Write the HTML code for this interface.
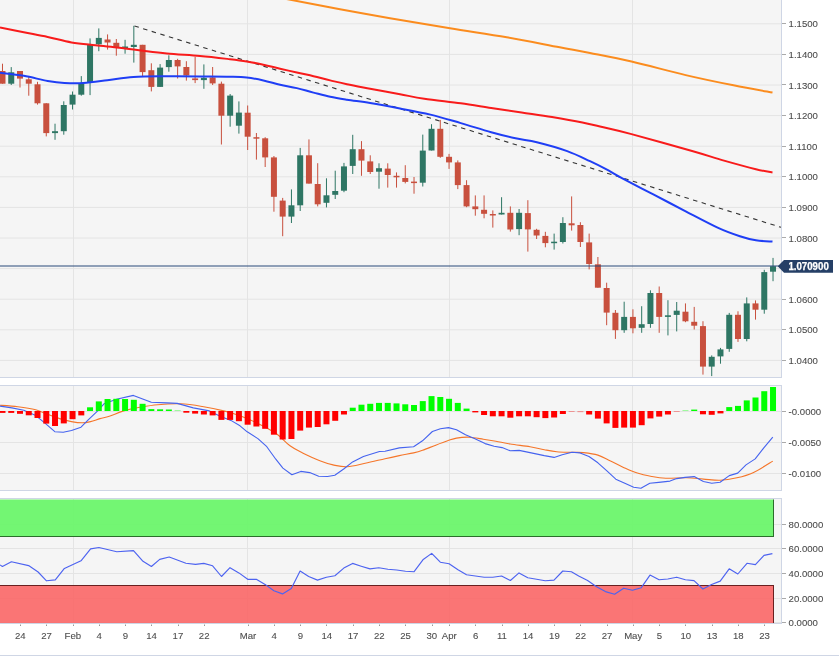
<!DOCTYPE html><html><head><meta charset="utf-8"><style>html,body{margin:0;padding:0;background:#fff;width:839px;height:658px;overflow:hidden}svg{display:block;will-change:transform}text{font-family:"Liberation Sans",sans-serif}</style></head><body>
<svg width="839" height="658" viewBox="0 0 839 658">
<rect x="0" y="0" width="781" height="377" fill="#f5f5f5"/>
<rect x="0" y="385" width="781" height="105" fill="#f5f5f5"/>
<rect x="0" y="498" width="781" height="125.5" fill="#f5f5f5"/>
<line x1="73.5" y1="0" x2="73.5" y2="377" stroke="#e4e4e4" stroke-width="1"/>
<line x1="73.5" y1="385" x2="73.5" y2="490" stroke="#e4e4e4" stroke-width="1"/>
<line x1="73.5" y1="498" x2="73.5" y2="623" stroke="#e4e4e4" stroke-width="1"/>
<line x1="247.5" y1="0" x2="247.5" y2="377" stroke="#e4e4e4" stroke-width="1"/>
<line x1="247.5" y1="385" x2="247.5" y2="490" stroke="#e4e4e4" stroke-width="1"/>
<line x1="247.5" y1="498" x2="247.5" y2="623" stroke="#e4e4e4" stroke-width="1"/>
<line x1="449.5" y1="0" x2="449.5" y2="377" stroke="#e4e4e4" stroke-width="1"/>
<line x1="449.5" y1="385" x2="449.5" y2="490" stroke="#e4e4e4" stroke-width="1"/>
<line x1="449.5" y1="498" x2="449.5" y2="623" stroke="#e4e4e4" stroke-width="1"/>
<line x1="632.5" y1="0" x2="632.5" y2="377" stroke="#e4e4e4" stroke-width="1"/>
<line x1="632.5" y1="385" x2="632.5" y2="490" stroke="#e4e4e4" stroke-width="1"/>
<line x1="632.5" y1="498" x2="632.5" y2="623" stroke="#e4e4e4" stroke-width="1"/>
<line x1="0" y1="360.4" x2="781" y2="360.4" stroke="#e4e4e4" stroke-width="1"/>
<line x1="0" y1="329.8" x2="781" y2="329.8" stroke="#e4e4e4" stroke-width="1"/>
<line x1="0" y1="299.2" x2="781" y2="299.2" stroke="#e4e4e4" stroke-width="1"/>
<line x1="0" y1="268.6" x2="781" y2="268.6" stroke="#e4e4e4" stroke-width="1"/>
<line x1="0" y1="238.0" x2="781" y2="238.0" stroke="#e4e4e4" stroke-width="1"/>
<line x1="0" y1="207.4" x2="781" y2="207.4" stroke="#e4e4e4" stroke-width="1"/>
<line x1="0" y1="176.8" x2="781" y2="176.8" stroke="#e4e4e4" stroke-width="1"/>
<line x1="0" y1="146.2" x2="781" y2="146.2" stroke="#e4e4e4" stroke-width="1"/>
<line x1="0" y1="115.6" x2="781" y2="115.6" stroke="#e4e4e4" stroke-width="1"/>
<line x1="0" y1="85.0" x2="781" y2="85.0" stroke="#e4e4e4" stroke-width="1"/>
<line x1="0" y1="54.4" x2="781" y2="54.4" stroke="#e4e4e4" stroke-width="1"/>
<line x1="0" y1="23.8" x2="781" y2="23.8" stroke="#e4e4e4" stroke-width="1"/>
<line x1="0" y1="411.5" x2="781" y2="411.5" stroke="#e4e4e4" stroke-width="1"/>
<line x1="0" y1="442.5" x2="781" y2="442.5" stroke="#e4e4e4" stroke-width="1"/>
<line x1="0" y1="473.5" x2="781" y2="473.5" stroke="#e4e4e4" stroke-width="1"/>
<line x1="0" y1="524.5" x2="781" y2="524.5" stroke="#e4e4e4" stroke-width="1"/>
<line x1="0" y1="548.5" x2="781" y2="548.5" stroke="#e4e4e4" stroke-width="1"/>
<line x1="0" y1="573.5" x2="781" y2="573.5" stroke="#e4e4e4" stroke-width="1"/>
<line x1="0" y1="598.5" x2="781" y2="598.5" stroke="#e4e4e4" stroke-width="1"/>
<line x1="0" y1="622.5" x2="781" y2="622.5" stroke="#e4e4e4" stroke-width="1"/>
<rect x="0" y="499.5" width="773.5" height="37" fill="#6cf56c" fill-opacity="0.95"/>
<line x1="0" y1="536.5" x2="774" y2="536.5" stroke="#2b6e2b" stroke-width="1"/>
<line x1="773.5" y1="499.5" x2="773.5" y2="537" stroke="#2b6e2b" stroke-width="1"/>
<rect x="0" y="585.5" width="773.5" height="38" fill="#fa6a6a" fill-opacity="0.93"/>
<line x1="0" y1="585.5" x2="774" y2="585.5" stroke="#6a2020" stroke-width="1"/>
<line x1="773.5" y1="585.5" x2="773.5" y2="623.5" stroke="#6a2020" stroke-width="1"/>
<g>
<rect x="1.99" y="63.7" width="1" height="20.0" fill="#c8503e"/>
<rect x="-0.51" y="71.0" width="6" height="12.7" fill="#c8503e"/>
<rect x="10.74" y="67.1" width="1" height="17.9" fill="#2e7664"/>
<rect x="8.24" y="72.3" width="6" height="11.4" fill="#2e7664"/>
<rect x="19.50" y="71.0" width="1" height="16.5" fill="#c8503e"/>
<rect x="17.00" y="71.0" width="6" height="7.6" fill="#c8503e"/>
<rect x="28.26" y="76.7" width="1" height="19.0" fill="#c8503e"/>
<rect x="25.76" y="79.3" width="6" height="4.4" fill="#c8503e"/>
<rect x="37.01" y="81.8" width="1" height="22.8" fill="#c8503e"/>
<rect x="34.51" y="84.3" width="6" height="19.0" fill="#c8503e"/>
<rect x="45.77" y="103.1" width="1" height="33.3" fill="#c8503e"/>
<rect x="43.27" y="103.3" width="6" height="29.8" fill="#c8503e"/>
<rect x="54.52" y="123.7" width="1" height="16.1" fill="#2e7664"/>
<rect x="52.02" y="131.2" width="6" height="1.9" fill="#2e7664"/>
<rect x="63.28" y="101.3" width="1" height="33.4" fill="#2e7664"/>
<rect x="60.78" y="105.0" width="6" height="26.2" fill="#2e7664"/>
<rect x="72.04" y="91.5" width="1" height="18.0" fill="#2e7664"/>
<rect x="69.54" y="94.7" width="6" height="9.9" fill="#2e7664"/>
<rect x="80.79" y="76.1" width="1" height="19.6" fill="#2e7664"/>
<rect x="78.29" y="83.7" width="6" height="11.0" fill="#2e7664"/>
<rect x="89.55" y="38.4" width="1" height="56.7" fill="#2e7664"/>
<rect x="87.05" y="44.7" width="6" height="38.0" fill="#2e7664"/>
<rect x="98.30" y="28.4" width="1" height="22.8" fill="#2e7664"/>
<rect x="95.80" y="37.9" width="6" height="6.4" fill="#2e7664"/>
<rect x="107.06" y="34.4" width="1" height="15.2" fill="#c8503e"/>
<rect x="104.56" y="39.5" width="6" height="3.0" fill="#c8503e"/>
<rect x="115.82" y="39.0" width="1" height="16.7" fill="#c8503e"/>
<rect x="113.32" y="42.8" width="6" height="4.2" fill="#c8503e"/>
<rect x="124.57" y="39.8" width="1" height="13.9" fill="#2e7664"/>
<rect x="122.07" y="46.5" width="6" height="1.5" fill="#2e7664"/>
<rect x="133.33" y="25.8" width="1" height="36.8" fill="#2e7664"/>
<rect x="130.83" y="44.8" width="6" height="2.2" fill="#2e7664"/>
<rect x="142.08" y="44.8" width="1" height="31.4" fill="#c8503e"/>
<rect x="139.58" y="44.8" width="6" height="27.3" fill="#c8503e"/>
<rect x="150.84" y="63.3" width="1" height="28.1" fill="#c8503e"/>
<rect x="148.34" y="70.2" width="6" height="16.7" fill="#c8503e"/>
<rect x="159.60" y="64.1" width="1" height="22.8" fill="#2e7664"/>
<rect x="157.10" y="67.6" width="6" height="19.3" fill="#2e7664"/>
<rect x="168.35" y="55.3" width="1" height="16.4" fill="#2e7664"/>
<rect x="165.85" y="60.0" width="6" height="7.1" fill="#2e7664"/>
<rect x="177.11" y="58.8" width="1" height="19.7" fill="#c8503e"/>
<rect x="174.61" y="60.0" width="6" height="6.4" fill="#c8503e"/>
<rect x="185.86" y="61.2" width="1" height="19.4" fill="#c8503e"/>
<rect x="183.36" y="67.0" width="6" height="8.5" fill="#c8503e"/>
<rect x="194.62" y="56.8" width="1" height="26.3" fill="#c8503e"/>
<rect x="192.12" y="78.4" width="6" height="1.7" fill="#c8503e"/>
<rect x="203.38" y="64.4" width="1" height="24.4" fill="#2e7664"/>
<rect x="200.88" y="77.8" width="6" height="2.3" fill="#2e7664"/>
<rect x="212.13" y="67.0" width="1" height="18.0" fill="#c8503e"/>
<rect x="209.63" y="77.4" width="6" height="6.0" fill="#c8503e"/>
<rect x="220.89" y="81.6" width="1" height="62.9" fill="#c8503e"/>
<rect x="218.39" y="83.7" width="6" height="32.0" fill="#c8503e"/>
<rect x="229.64" y="94.0" width="1" height="32.7" fill="#2e7664"/>
<rect x="227.14" y="95.6" width="6" height="20.1" fill="#2e7664"/>
<rect x="238.40" y="101.4" width="1" height="32.2" fill="#2e7664"/>
<rect x="235.90" y="112.6" width="6" height="13.1" fill="#2e7664"/>
<rect x="247.16" y="105.5" width="1" height="44.5" fill="#c8503e"/>
<rect x="244.66" y="112.7" width="6" height="24.0" fill="#c8503e"/>
<rect x="255.91" y="133.0" width="1" height="26.6" fill="#c8503e"/>
<rect x="253.41" y="137.2" width="6" height="1.5" fill="#c8503e"/>
<rect x="264.67" y="137.2" width="1" height="29.8" fill="#c8503e"/>
<rect x="262.17" y="138.3" width="6" height="19.1" fill="#c8503e"/>
<rect x="273.42" y="156.0" width="1" height="55.7" fill="#c8503e"/>
<rect x="270.92" y="157.4" width="6" height="39.4" fill="#c8503e"/>
<rect x="282.18" y="197.9" width="1" height="38.3" fill="#c8503e"/>
<rect x="279.68" y="200.6" width="6" height="16.0" fill="#c8503e"/>
<rect x="290.94" y="189.4" width="1" height="33.6" fill="#2e7664"/>
<rect x="288.44" y="205.3" width="6" height="11.3" fill="#2e7664"/>
<rect x="299.69" y="147.9" width="1" height="63.1" fill="#2e7664"/>
<rect x="297.19" y="155.3" width="6" height="50.0" fill="#2e7664"/>
<rect x="308.45" y="139.4" width="1" height="44.2" fill="#c8503e"/>
<rect x="305.95" y="155.3" width="6" height="28.3" fill="#c8503e"/>
<rect x="317.20" y="163.2" width="1" height="43.2" fill="#c8503e"/>
<rect x="314.70" y="184.0" width="6" height="20.3" fill="#c8503e"/>
<rect x="325.96" y="178.3" width="1" height="29.1" fill="#2e7664"/>
<rect x="323.46" y="195.3" width="6" height="7.5" fill="#2e7664"/>
<rect x="334.72" y="170.7" width="1" height="28.3" fill="#2e7664"/>
<rect x="332.22" y="191.0" width="6" height="3.8" fill="#2e7664"/>
<rect x="343.47" y="162.9" width="1" height="29.3" fill="#2e7664"/>
<rect x="340.97" y="166.4" width="6" height="24.3" fill="#2e7664"/>
<rect x="352.23" y="134.8" width="1" height="39.2" fill="#2e7664"/>
<rect x="349.73" y="149.2" width="6" height="16.7" fill="#2e7664"/>
<rect x="360.98" y="141.1" width="1" height="34.7" fill="#c8503e"/>
<rect x="358.48" y="149.2" width="6" height="11.4" fill="#c8503e"/>
<rect x="369.74" y="155.3" width="1" height="18.7" fill="#c8503e"/>
<rect x="367.24" y="161.4" width="6" height="10.6" fill="#c8503e"/>
<rect x="378.50" y="163.3" width="1" height="25.4" fill="#2e7664"/>
<rect x="376.00" y="168.2" width="6" height="3.5" fill="#2e7664"/>
<rect x="387.25" y="163.3" width="1" height="24.3" fill="#c8503e"/>
<rect x="384.75" y="168.6" width="6" height="6.4" fill="#c8503e"/>
<rect x="396.01" y="172.4" width="1" height="15.2" fill="#c8503e"/>
<rect x="393.51" y="175.8" width="6" height="1.5" fill="#c8503e"/>
<rect x="404.76" y="165.2" width="1" height="18.2" fill="#c8503e"/>
<rect x="402.26" y="178.0" width="6" height="3.9" fill="#c8503e"/>
<rect x="413.52" y="177.0" width="1" height="16.7" fill="#c8503e"/>
<rect x="411.02" y="181.6" width="6" height="1.5" fill="#c8503e"/>
<rect x="422.28" y="134.6" width="1" height="51.9" fill="#2e7664"/>
<rect x="419.78" y="150.6" width="6" height="32.1" fill="#2e7664"/>
<rect x="431.03" y="124.2" width="1" height="26.3" fill="#2e7664"/>
<rect x="428.53" y="128.8" width="6" height="21.7" fill="#2e7664"/>
<rect x="439.79" y="119.9" width="1" height="37.9" fill="#c8503e"/>
<rect x="437.29" y="128.8" width="6" height="28.0" fill="#c8503e"/>
<rect x="448.54" y="153.9" width="1" height="15.0" fill="#c8503e"/>
<rect x="446.04" y="156.8" width="6" height="5.6" fill="#c8503e"/>
<rect x="457.30" y="160.4" width="1" height="28.7" fill="#c8503e"/>
<rect x="454.80" y="162.4" width="6" height="22.7" fill="#c8503e"/>
<rect x="466.06" y="180.2" width="1" height="27.0" fill="#c8503e"/>
<rect x="463.56" y="185.1" width="6" height="21.3" fill="#c8503e"/>
<rect x="474.81" y="195.4" width="1" height="20.3" fill="#c8503e"/>
<rect x="472.31" y="206.4" width="6" height="2.8" fill="#c8503e"/>
<rect x="483.57" y="195.4" width="1" height="22.9" fill="#c8503e"/>
<rect x="481.07" y="209.8" width="6" height="4.0" fill="#c8503e"/>
<rect x="492.32" y="210.4" width="1" height="17.2" fill="#c8503e"/>
<rect x="489.82" y="214.0" width="6" height="1.5" fill="#c8503e"/>
<rect x="501.08" y="197.2" width="1" height="17.3" fill="#2e7664"/>
<rect x="498.58" y="212.8" width="6" height="1.7" fill="#2e7664"/>
<rect x="509.84" y="206.4" width="1" height="25.2" fill="#c8503e"/>
<rect x="507.34" y="212.8" width="6" height="16.7" fill="#c8503e"/>
<rect x="518.59" y="209.0" width="1" height="26.2" fill="#2e7664"/>
<rect x="516.09" y="212.8" width="6" height="16.3" fill="#2e7664"/>
<rect x="527.35" y="200.2" width="1" height="51.4" fill="#c8503e"/>
<rect x="524.85" y="213.1" width="6" height="16.3" fill="#c8503e"/>
<rect x="536.10" y="228.8" width="1" height="10.2" fill="#c8503e"/>
<rect x="533.60" y="229.8" width="6" height="5.7" fill="#c8503e"/>
<rect x="544.86" y="231.8" width="1" height="15.5" fill="#c8503e"/>
<rect x="542.36" y="235.9" width="6" height="7.2" fill="#c8503e"/>
<rect x="553.62" y="233.6" width="1" height="16.0" fill="#2e7664"/>
<rect x="551.12" y="241.7" width="6" height="1.5" fill="#2e7664"/>
<rect x="562.37" y="217.2" width="1" height="26.3" fill="#2e7664"/>
<rect x="559.87" y="223.0" width="6" height="19.0" fill="#2e7664"/>
<rect x="571.13" y="196.4" width="1" height="34.2" fill="#c8503e"/>
<rect x="568.63" y="223.3" width="6" height="2.0" fill="#c8503e"/>
<rect x="579.88" y="222.2" width="1" height="24.8" fill="#c8503e"/>
<rect x="577.38" y="225.0" width="6" height="17.0" fill="#c8503e"/>
<rect x="588.64" y="233.6" width="1" height="35.8" fill="#c8503e"/>
<rect x="586.14" y="242.4" width="6" height="21.6" fill="#c8503e"/>
<rect x="597.40" y="257.0" width="1" height="30.7" fill="#c8503e"/>
<rect x="594.90" y="264.3" width="6" height="23.4" fill="#c8503e"/>
<rect x="606.15" y="282.7" width="1" height="42.5" fill="#c8503e"/>
<rect x="603.65" y="288.0" width="6" height="24.6" fill="#c8503e"/>
<rect x="614.91" y="310.0" width="1" height="28.9" fill="#c8503e"/>
<rect x="612.41" y="312.8" width="6" height="17.4" fill="#c8503e"/>
<rect x="623.66" y="301.7" width="1" height="31.1" fill="#2e7664"/>
<rect x="621.16" y="316.9" width="6" height="13.3" fill="#2e7664"/>
<rect x="632.42" y="309.3" width="1" height="24.0" fill="#c8503e"/>
<rect x="629.92" y="316.9" width="6" height="11.4" fill="#c8503e"/>
<rect x="641.18" y="306.2" width="1" height="26.6" fill="#2e7664"/>
<rect x="638.68" y="324.2" width="6" height="3.6" fill="#2e7664"/>
<rect x="649.93" y="290.3" width="1" height="37.5" fill="#2e7664"/>
<rect x="647.43" y="293.0" width="6" height="31.0" fill="#2e7664"/>
<rect x="658.69" y="286.5" width="1" height="46.3" fill="#c8503e"/>
<rect x="656.19" y="293.0" width="6" height="23.9" fill="#c8503e"/>
<rect x="667.44" y="300.2" width="1" height="35.2" fill="#2e7664"/>
<rect x="664.94" y="315.3" width="6" height="1.6" fill="#2e7664"/>
<rect x="676.20" y="302.0" width="1" height="29.4" fill="#2e7664"/>
<rect x="673.70" y="310.7" width="6" height="4.2" fill="#2e7664"/>
<rect x="684.96" y="303.4" width="1" height="18.8" fill="#c8503e"/>
<rect x="682.46" y="311.7" width="6" height="9.6" fill="#c8503e"/>
<rect x="693.71" y="306.9" width="1" height="22.6" fill="#c8503e"/>
<rect x="691.21" y="321.8" width="6" height="3.9" fill="#c8503e"/>
<rect x="702.47" y="321.2" width="1" height="53.4" fill="#c8503e"/>
<rect x="699.97" y="326.1" width="6" height="40.5" fill="#c8503e"/>
<rect x="711.22" y="355.4" width="1" height="20.7" fill="#2e7664"/>
<rect x="708.72" y="356.8" width="6" height="9.8" fill="#2e7664"/>
<rect x="719.98" y="347.9" width="1" height="15.8" fill="#2e7664"/>
<rect x="717.48" y="349.4" width="6" height="7.0" fill="#2e7664"/>
<rect x="728.74" y="312.9" width="1" height="38.9" fill="#2e7664"/>
<rect x="726.24" y="314.8" width="6" height="34.1" fill="#2e7664"/>
<rect x="737.49" y="311.3" width="1" height="30.6" fill="#c8503e"/>
<rect x="734.99" y="314.8" width="6" height="24.2" fill="#c8503e"/>
<rect x="746.25" y="297.4" width="1" height="43.9" fill="#2e7664"/>
<rect x="743.75" y="303.4" width="6" height="35.6" fill="#2e7664"/>
<rect x="755.00" y="300.4" width="1" height="19.2" fill="#c8503e"/>
<rect x="752.50" y="303.4" width="6" height="6.3" fill="#c8503e"/>
<rect x="763.76" y="269.8" width="1" height="43.9" fill="#2e7664"/>
<rect x="761.26" y="272.1" width="6" height="37.6" fill="#2e7664"/>
<rect x="772.52" y="257.9" width="1" height="23.3" fill="#2e7664"/>
<rect x="770.02" y="266.2" width="6" height="5.5" fill="#2e7664"/>
</g>
<line x1="134.5" y1="26" x2="781" y2="227.3" stroke="#333" stroke-width="1.1" stroke-dasharray="4.5,4.5"/>
<path d="M286.5,-1.0 C295.4,0.7 322.8,6.1 340.0,9.3 C357.2,12.5 371.7,15.1 390.0,18.3 C408.3,21.5 430.6,25.1 450.0,28.3 C469.4,31.5 488.4,34.1 506.7,37.3 C525.0,40.5 545.8,44.7 559.7,47.3 C573.6,49.9 578.0,50.5 590.0,52.9 C602.0,55.3 615.5,57.8 631.5,61.5 C647.5,65.2 668.7,71.1 685.7,75.1 C702.7,79.1 719.0,82.4 733.5,85.3 C748.0,88.2 766.0,91.4 772.5,92.6" fill="none" stroke="#fb8c1e" stroke-width="2" stroke-linejoin="round"/>
<path d="M0.0,27.4 C4.0,28.2 15.9,30.6 23.8,32.2 C31.8,33.8 39.8,35.2 47.7,36.9 C55.7,38.6 63.5,41.0 71.5,42.4 C79.5,43.8 87.5,44.4 95.4,45.3 C103.4,46.2 111.3,46.8 119.2,47.7 C127.1,48.6 135.1,49.8 143.0,50.8 C150.9,51.8 157.4,52.7 166.9,53.6 C176.4,54.5 189.5,55.1 200.0,56.0 C210.5,56.9 222.2,58.3 230.0,59.2 C237.8,60.1 241.1,60.5 246.7,61.4 C252.3,62.3 257.8,63.5 263.4,64.7 C269.0,65.9 274.5,67.4 280.1,68.7 C285.7,70.0 291.2,71.2 296.8,72.5 C302.4,73.8 307.9,74.9 313.5,76.2 C319.1,77.5 324.6,79.1 330.2,80.4 C335.8,81.7 340.2,82.8 346.9,84.2 C353.5,85.6 361.2,87.0 370.1,88.7 C379.0,90.4 391.0,92.5 400.0,94.2 C409.0,95.9 414.2,97.3 424.3,98.8 C434.4,100.3 449.7,101.8 460.8,103.3 C471.9,104.8 481.1,106.4 491.2,107.9 C501.3,109.4 511.5,111.0 521.6,112.5 C531.7,114.0 541.9,115.3 552.0,117.0 C562.1,118.7 574.4,120.9 582.4,122.5 C590.4,124.1 591.8,124.6 600.0,126.5 C608.2,128.4 616.1,130.0 631.5,134.1 C646.9,138.2 676.7,146.6 692.1,151.0 C707.5,155.4 713.4,157.6 724.0,160.6 C734.6,163.6 747.8,167.2 755.9,169.2 C764.0,171.2 769.7,171.9 772.5,172.4" fill="none" stroke="#f81b1b" stroke-width="2" stroke-linejoin="round"/>
<path d="M0.0,72.7 C4.0,73.2 15.9,74.4 23.8,75.8 C31.8,77.2 40.9,79.8 47.7,81.0 C54.5,82.2 58.5,82.7 64.4,83.0 C70.4,83.3 76.2,83.5 83.4,83.0 C90.6,82.5 99.0,81.3 107.3,80.3 C115.6,79.3 123.6,77.7 133.5,77.0 C143.4,76.3 155.8,76.4 166.9,76.3 C178.0,76.2 189.5,76.3 200.0,76.4 C210.5,76.5 222.2,76.5 230.0,76.7 C237.8,76.9 241.1,76.9 246.7,77.5 C252.3,78.1 257.8,79.2 263.4,80.4 C269.0,81.6 274.5,83.4 280.1,84.7 C285.7,86.0 291.2,86.8 296.8,88.1 C302.4,89.4 307.9,91.2 313.5,92.6 C319.1,94.0 324.6,95.5 330.2,96.7 C335.8,97.9 340.2,98.6 346.9,99.7 C353.5,100.8 361.2,101.6 370.1,103.1 C379.0,104.6 389.9,106.6 400.0,108.5 C410.1,110.4 420.3,112.2 430.4,114.6 C440.5,117.0 450.7,120.2 460.8,123.1 C470.9,126.0 482.1,129.7 491.2,132.2 C500.3,134.7 507.9,136.6 515.5,138.3 C523.1,140.0 528.2,140.1 536.8,142.2 C545.4,144.3 558.3,147.9 567.2,151.1 C576.1,154.3 583.5,158.2 590.0,161.2 C596.5,164.2 600.7,166.4 606.0,169.2 C611.3,172.0 613.9,173.8 621.9,178.1 C629.9,182.3 643.2,189.2 653.8,194.7 C664.4,200.2 675.1,205.8 685.7,211.3 C696.3,216.8 708.6,223.4 717.6,227.6 C726.6,231.8 733.5,234.1 739.9,236.2 C746.3,238.3 750.5,239.4 755.9,240.3 C761.3,241.2 769.7,241.4 772.5,241.6" fill="none" stroke="#1f3ef5" stroke-width="2" stroke-linejoin="round"/>
<line x1="0" y1="266" x2="779" y2="266" stroke="#2a4a7a" stroke-opacity="0.5" stroke-width="2"/>
<path d="M0.0,405.3 C3.0,405.5 11.9,406.0 17.9,406.7 C23.9,407.4 30.8,408.4 35.8,409.7 C40.8,411.0 43.7,412.9 47.7,414.4 C51.7,415.9 55.6,417.4 59.6,418.6 C63.6,419.8 67.7,420.9 71.5,421.6 C75.3,422.3 79.0,422.8 82.2,422.8 C85.4,422.8 87.6,422.3 90.6,421.6 C93.6,420.9 96.9,419.5 100.0,418.6 C103.1,417.7 105.4,417.6 109.3,416.3 C113.2,415.0 118.5,412.4 123.6,410.9 C128.7,409.4 134.0,408.3 139.7,407.3 C145.4,406.3 150.8,405.3 157.6,404.7 C164.4,404.1 173.4,403.5 180.8,403.8 C188.2,404.1 195.2,405.3 202.3,406.5 C209.5,407.7 217.4,409.3 223.7,410.9 C230.0,412.4 234.3,413.7 240.0,415.8 C245.7,417.9 251.9,420.5 257.9,423.4 C263.9,426.3 270.4,429.6 275.8,433.3 C281.2,437.0 285.5,442.5 290.0,445.8 C294.5,449.1 297.5,450.4 302.6,452.9 C307.7,455.4 315.4,459.0 320.5,461.0 C325.6,463.0 328.5,463.9 333.0,464.9 C337.5,465.8 341.9,467.0 347.3,466.7 C352.7,466.4 358.9,464.6 365.2,463.3 C371.5,462.0 379.3,460.0 385.0,458.7 C390.7,457.4 394.5,456.6 399.3,455.6 C404.1,454.6 409.7,453.8 413.6,452.9 C417.5,452.0 418.9,451.6 422.5,450.3 C426.1,449.1 430.9,447.0 435.1,445.4 C439.3,443.8 444.0,442.0 447.6,440.8 C451.2,439.6 452.9,438.7 456.5,438.1 C460.1,437.5 464.5,437.0 469.0,437.2 C473.5,437.4 478.8,438.5 483.3,439.2 C487.8,439.9 491.4,440.5 495.9,441.3 C500.4,442.1 504.5,443.1 510.2,444.0 C515.9,444.9 524.3,445.8 530.0,446.7 C535.7,447.6 539.8,448.9 544.3,449.7 C548.8,450.5 552.3,451.2 556.8,451.7 C561.3,452.1 566.6,452.2 571.1,452.4 C575.6,452.5 579.1,452.2 583.6,452.6 C588.1,453.1 593.4,453.7 597.9,455.1 C602.4,456.5 606.3,459.0 610.5,461.0 C614.7,463.0 618.5,465.2 623.0,467.2 C627.5,469.2 632.5,471.6 637.3,473.1 C642.1,474.7 646.8,475.6 651.6,476.5 C656.4,477.4 660.0,478.1 665.9,478.3 C671.8,478.5 680.5,477.7 686.7,477.8 C693.0,477.9 697.8,478.7 703.4,479.1 C709.0,479.5 714.5,480.5 720.1,480.3 C725.7,480.1 731.3,479.1 736.9,477.8 C742.5,476.5 747.6,475.2 753.6,472.4 C759.6,469.6 769.6,463.0 772.8,461.1" fill="none" stroke="#f5762a" stroke-width="1.1" stroke-linejoin="round"/>
<polyline points="0.0,406.1 11.9,407.9 23.8,410.3 35.8,415.6 45.3,423.4 54.8,431.7 63.2,432.3 71.5,430.5 81.0,427.2 88.2,419.8 97.7,410.9 104.0,403.8 116.5,399.3 133.4,395.4 151.3,402.3 166.5,402.9 177.2,403.4 193.3,407.9 209.4,410.9 220.2,416.3 230.9,420.4 240.0,425.8 247.2,431.8 257.9,438.6 266.8,446.7 275.8,459.2 282.9,468.1 291.9,474.8 300.8,471.4 309.7,472.6 318.7,476.2 327.6,476.5 334.8,475.3 343.7,469.0 352.6,461.9 363.4,456.5 379.5,451.5 385.0,451.2 399.3,447.9 413.6,446.7 422.5,440.8 432.4,431.5 440.4,428.8 448.5,427.6 456.5,429.7 465.5,434.7 474.4,438.6 485.1,443.6 494.1,446.3 502.1,447.6 510.2,450.8 519.1,450.4 530.0,452.6 544.3,455.6 554.1,457.4 562.2,454.7 572.0,452.2 580.1,452.9 589.0,456.5 597.9,462.8 606.9,470.8 615.8,479.2 624.8,483.3 633.7,487.3 640.9,488.3 649.8,483.3 658.7,482.4 670.0,481.1 676.7,478.6 685.0,477.4 694.2,476.6 703.4,481.5 711.8,483.3 720.1,482.3 729.3,475.6 737.7,473.1 746.0,464.9 755.2,458.9 763.6,448.2 772.8,437.2" fill="none" stroke="#4563ef" stroke-width="1.1" stroke-linejoin="round"/>
<g>
<rect x="-0.51" y="411" width="6" height="1.9" fill="#ff0000"/>
<rect x="8.24" y="411" width="6" height="1.9" fill="#ff0000"/>
<rect x="17.00" y="411" width="6" height="2.8" fill="#ff0000"/>
<rect x="25.76" y="411" width="6" height="4.3" fill="#ff0000"/>
<rect x="34.51" y="411" width="6" height="7.0" fill="#ff0000"/>
<rect x="43.27" y="411" width="6" height="12.6" fill="#ff0000"/>
<rect x="52.02" y="411" width="6" height="15.0" fill="#ff0000"/>
<rect x="60.78" y="411" width="6" height="12.4" fill="#ff0000"/>
<rect x="69.54" y="411" width="6" height="8.2" fill="#ff0000"/>
<rect x="78.29" y="411" width="6" height="4.4" fill="#ff0000"/>
<rect x="87.05" y="407.3" width="6" height="3.7" fill="#00ff00"/>
<rect x="95.80" y="401.4" width="6" height="9.6" fill="#00ff00"/>
<rect x="104.56" y="399.0" width="6" height="12.0" fill="#00ff00"/>
<rect x="113.32" y="398.8" width="6" height="12.2" fill="#00ff00"/>
<rect x="122.07" y="399.0" width="6" height="12.0" fill="#00ff00"/>
<rect x="130.83" y="399.8" width="6" height="11.2" fill="#00ff00"/>
<rect x="139.58" y="403.8" width="6" height="7.2" fill="#00ff00"/>
<rect x="148.34" y="409.1" width="6" height="1.9" fill="#00ff00"/>
<rect x="157.10" y="409.3" width="6" height="1.7" fill="#00ff00"/>
<rect x="165.85" y="409.5" width="6" height="1.5" fill="#00ff00"/>
<rect x="174.61" y="410.0" width="6" height="1.0" fill="#00ff00" fill-opacity="0.35"/>
<rect x="183.36" y="411" width="6" height="1.7" fill="#ff0000"/>
<rect x="192.12" y="411" width="6" height="2.6" fill="#ff0000"/>
<rect x="200.88" y="411" width="6" height="3.5" fill="#ff0000"/>
<rect x="209.63" y="411" width="6" height="4.4" fill="#ff0000"/>
<rect x="218.39" y="411" width="6" height="8.9" fill="#ff0000"/>
<rect x="227.14" y="411" width="6" height="8.9" fill="#ff0000"/>
<rect x="235.90" y="411" width="6" height="10.2" fill="#ff0000"/>
<rect x="244.66" y="411" width="6" height="13.7" fill="#ff0000"/>
<rect x="253.41" y="411" width="6" height="15.5" fill="#ff0000"/>
<rect x="262.17" y="411" width="6" height="17.8" fill="#ff0000"/>
<rect x="270.92" y="411" width="6" height="23.7" fill="#ff0000"/>
<rect x="279.68" y="411" width="6" height="28.5" fill="#ff0000"/>
<rect x="288.44" y="411" width="6" height="28.0" fill="#ff0000"/>
<rect x="297.19" y="411" width="6" height="19.6" fill="#ff0000"/>
<rect x="305.95" y="411" width="6" height="16.6" fill="#ff0000"/>
<rect x="314.70" y="411" width="6" height="16.0" fill="#ff0000"/>
<rect x="323.46" y="411" width="6" height="13.3" fill="#ff0000"/>
<rect x="332.22" y="411" width="6" height="9.8" fill="#ff0000"/>
<rect x="340.97" y="411" width="6" height="3.5" fill="#ff0000"/>
<rect x="349.73" y="407.7" width="6" height="3.3" fill="#00ff00"/>
<rect x="358.48" y="404.7" width="6" height="6.3" fill="#00ff00"/>
<rect x="367.24" y="403.8" width="6" height="7.2" fill="#00ff00"/>
<rect x="376.00" y="402.9" width="6" height="8.1" fill="#00ff00"/>
<rect x="384.75" y="402.9" width="6" height="8.1" fill="#00ff00"/>
<rect x="393.51" y="403.4" width="6" height="7.6" fill="#00ff00"/>
<rect x="402.26" y="404.3" width="6" height="6.7" fill="#00ff00"/>
<rect x="411.02" y="405.0" width="6" height="6.0" fill="#00ff00"/>
<rect x="419.78" y="401.1" width="6" height="9.9" fill="#00ff00"/>
<rect x="428.53" y="396.1" width="6" height="14.9" fill="#00ff00"/>
<rect x="437.29" y="397.0" width="6" height="14.0" fill="#00ff00"/>
<rect x="446.04" y="398.8" width="6" height="12.2" fill="#00ff00"/>
<rect x="454.80" y="402.9" width="6" height="8.1" fill="#00ff00"/>
<rect x="463.56" y="408.6" width="6" height="2.4" fill="#00ff00"/>
<rect x="472.31" y="411" width="6" height="1.4" fill="#ff0000"/>
<rect x="481.07" y="411" width="6" height="4.0" fill="#ff0000"/>
<rect x="489.82" y="411" width="6" height="5.3" fill="#ff0000"/>
<rect x="498.58" y="411" width="6" height="5.3" fill="#ff0000"/>
<rect x="507.34" y="411" width="6" height="6.7" fill="#ff0000"/>
<rect x="516.09" y="411" width="6" height="5.3" fill="#ff0000"/>
<rect x="524.85" y="411" width="6" height="5.3" fill="#ff0000"/>
<rect x="533.60" y="411" width="6" height="6.2" fill="#ff0000"/>
<rect x="542.36" y="411" width="6" height="7.1" fill="#ff0000"/>
<rect x="551.12" y="411" width="6" height="6.5" fill="#ff0000"/>
<rect x="559.87" y="411" width="6" height="3.0" fill="#ff0000"/>
<rect x="568.63" y="411" width="6" height="1.0" fill="#ff0000" fill-opacity="0.35"/>
<rect x="577.38" y="411" width="6" height="1.2" fill="#ff0000" fill-opacity="0.35"/>
<rect x="586.14" y="411" width="6" height="3.5" fill="#ff0000"/>
<rect x="594.90" y="411" width="6" height="7.6" fill="#ff0000"/>
<rect x="603.65" y="411" width="6" height="12.4" fill="#ff0000"/>
<rect x="612.41" y="411" width="6" height="16.9" fill="#ff0000"/>
<rect x="621.16" y="411" width="6" height="16.6" fill="#ff0000"/>
<rect x="629.92" y="411" width="6" height="16.6" fill="#ff0000"/>
<rect x="638.68" y="411" width="6" height="14.2" fill="#ff0000"/>
<rect x="647.43" y="411" width="6" height="7.4" fill="#ff0000"/>
<rect x="656.19" y="411" width="6" height="5.6" fill="#ff0000"/>
<rect x="664.94" y="411" width="6" height="3.5" fill="#ff0000"/>
<rect x="673.70" y="411" width="6" height="1.0" fill="#ff0000" fill-opacity="0.35"/>
<rect x="682.46" y="410.0" width="6" height="1.0" fill="#00ff00" fill-opacity="0.35"/>
<rect x="691.21" y="409.6" width="6" height="1.4" fill="#00ff00"/>
<rect x="699.97" y="411" width="6" height="3.3" fill="#ff0000"/>
<rect x="708.72" y="411" width="6" height="3.8" fill="#ff0000"/>
<rect x="717.48" y="411" width="6" height="2.4" fill="#ff0000"/>
<rect x="726.24" y="407.1" width="6" height="3.9" fill="#00ff00"/>
<rect x="734.99" y="405.9" width="6" height="5.1" fill="#00ff00"/>
<rect x="743.75" y="400.4" width="6" height="10.6" fill="#00ff00"/>
<rect x="752.50" y="397.5" width="6" height="13.5" fill="#00ff00"/>
<rect x="761.26" y="391.2" width="6" height="19.8" fill="#00ff00"/>
<rect x="770.02" y="387.0" width="6" height="24.0" fill="#00ff00"/>
</g>
<polyline points="0.0,564.9 2.4,566.5 11.4,561.8 28.6,565.6 38.1,572.0 46.5,580.8 55.3,579.9 64.4,568.4 81.0,560.8 90.6,548.9 98.9,547.5 116.8,551.7 133.5,550.6 143.0,561.3 151.4,566.5 159.7,559.4 169.2,557.0 185.9,563.2 195.5,564.4 203.8,563.4 212.6,565.8 221.5,576.5 230.0,567.7 238.9,572.9 247.7,579.3 256.3,579.3 265.1,584.4 273.9,590.8 282.5,593.9 291.3,588.4 300.1,571.0 308.7,576.5 317.5,580.1 326.4,577.2 334.9,575.8 343.8,568.1 352.6,563.4 361.2,566.2 370.0,568.9 378.8,567.7 387.9,569.3 396.7,570.0 405.5,571.2 414.1,571.7 422.9,559.8 431.7,553.4 440.3,562.2 449.1,563.8 458.0,569.8 466.5,574.8 475.4,576.0 484.2,577.2 492.8,577.2 501.6,576.0 510.4,580.5 519.0,572.9 527.8,577.7 536.6,579.3 545.2,580.8 554.0,580.1 562.8,571.0 571.4,571.7 578.7,575.9 587.6,580.6 596.2,586.4 605.4,591.6 614.6,594.2 623.7,588.2 632.4,590.3 641.3,587.7 650.0,575.1 659.1,579.8 667.8,579.0 676.7,577.2 685.4,579.8 694.0,580.6 702.9,589.0 711.6,584.5 720.2,581.1 729.2,568.8 737.8,574.0 747.0,563.3 755.4,564.6 764.0,555.4 772.4,553.6" fill="none" stroke="#4d63f0" stroke-width="1.15" stroke-linejoin="round"/>
<g fill="none" stroke="#cfd6e5" stroke-width="1">
<line x1="781.5" y1="0" x2="781.5" y2="377.5"/>
<line x1="0" y1="377.5" x2="782" y2="377.5"/>
<line x1="0" y1="385.5" x2="782" y2="385.5"/>
<line x1="781.5" y1="385" x2="781.5" y2="490.5"/>
<line x1="0" y1="490.5" x2="782" y2="490.5"/>
<line x1="0" y1="498.5" x2="782" y2="498.5"/>
<line x1="781.5" y1="498" x2="781.5" y2="624"/>
<line x1="0" y1="623.5" x2="782" y2="623.5"/>
<line x1="0" y1="655.5" x2="839" y2="655.5"/>
</g>
<line x1="782" y1="360.5" x2="786" y2="360.5" stroke="#aaa" stroke-width="1"/>
<text x="788.6" y="363.9" font-size="9.6" fill="#4d4d4d" stroke="#4d4d4d" stroke-width="0.1">1.0400</text>
<line x1="782" y1="329.5" x2="786" y2="329.5" stroke="#aaa" stroke-width="1"/>
<text x="788.6" y="333.3" font-size="9.6" fill="#4d4d4d" stroke="#4d4d4d" stroke-width="0.1">1.0500</text>
<line x1="782" y1="299.5" x2="786" y2="299.5" stroke="#aaa" stroke-width="1"/>
<text x="788.6" y="302.7" font-size="9.6" fill="#4d4d4d" stroke="#4d4d4d" stroke-width="0.1">1.0600</text>
<line x1="782" y1="237.5" x2="786" y2="237.5" stroke="#aaa" stroke-width="1"/>
<text x="788.6" y="241.5" font-size="9.6" fill="#4d4d4d" stroke="#4d4d4d" stroke-width="0.1">1.0800</text>
<line x1="782" y1="207.5" x2="786" y2="207.5" stroke="#aaa" stroke-width="1"/>
<text x="788.6" y="210.9" font-size="9.6" fill="#4d4d4d" stroke="#4d4d4d" stroke-width="0.1">1.0900</text>
<line x1="782" y1="176.5" x2="786" y2="176.5" stroke="#aaa" stroke-width="1"/>
<text x="788.6" y="180.3" font-size="9.6" fill="#4d4d4d" stroke="#4d4d4d" stroke-width="0.1">1.1000</text>
<line x1="782" y1="146.5" x2="786" y2="146.5" stroke="#aaa" stroke-width="1"/>
<text x="788.6" y="149.7" font-size="9.6" fill="#4d4d4d" stroke="#4d4d4d" stroke-width="0.1">1.1100</text>
<line x1="782" y1="115.5" x2="786" y2="115.5" stroke="#aaa" stroke-width="1"/>
<text x="788.6" y="119.1" font-size="9.6" fill="#4d4d4d" stroke="#4d4d4d" stroke-width="0.1">1.1200</text>
<line x1="782" y1="84.5" x2="786" y2="84.5" stroke="#aaa" stroke-width="1"/>
<text x="788.6" y="88.5" font-size="9.6" fill="#4d4d4d" stroke="#4d4d4d" stroke-width="0.1">1.1300</text>
<line x1="782" y1="54.5" x2="786" y2="54.5" stroke="#aaa" stroke-width="1"/>
<text x="788.6" y="57.9" font-size="9.6" fill="#4d4d4d" stroke="#4d4d4d" stroke-width="0.1">1.1400</text>
<line x1="782" y1="23.5" x2="786" y2="23.5" stroke="#aaa" stroke-width="1"/>
<text x="788.6" y="27.3" font-size="9.6" fill="#4d4d4d" stroke="#4d4d4d" stroke-width="0.1">1.1500</text>
<line x1="782" y1="411.5" x2="786" y2="411.5" stroke="#aaa" stroke-width="1"/>
<text x="788.6" y="414.5" font-size="9.6" fill="#4d4d4d" stroke="#4d4d4d" stroke-width="0.1">-0.0000</text>
<line x1="782" y1="442.5" x2="786" y2="442.5" stroke="#aaa" stroke-width="1"/>
<text x="788.6" y="445.7" font-size="9.6" fill="#4d4d4d" stroke="#4d4d4d" stroke-width="0.1">-0.0050</text>
<line x1="782" y1="473.5" x2="786" y2="473.5" stroke="#aaa" stroke-width="1"/>
<text x="788.6" y="476.7" font-size="9.6" fill="#4d4d4d" stroke="#4d4d4d" stroke-width="0.1">-0.0100</text>
<line x1="782" y1="524.5" x2="786" y2="524.5" stroke="#aaa" stroke-width="1"/>
<text x="788.6" y="527.5" font-size="9.6" fill="#4d4d4d" stroke="#4d4d4d" stroke-width="0.1">80.0000</text>
<line x1="782" y1="548.5" x2="786" y2="548.5" stroke="#aaa" stroke-width="1"/>
<text x="788.6" y="552.1" font-size="9.6" fill="#4d4d4d" stroke="#4d4d4d" stroke-width="0.1">60.0000</text>
<line x1="782" y1="573.5" x2="786" y2="573.5" stroke="#aaa" stroke-width="1"/>
<text x="788.6" y="576.9" font-size="9.6" fill="#4d4d4d" stroke="#4d4d4d" stroke-width="0.1">40.0000</text>
<line x1="782" y1="598.5" x2="786" y2="598.5" stroke="#aaa" stroke-width="1"/>
<text x="788.6" y="601.5" font-size="9.6" fill="#4d4d4d" stroke="#4d4d4d" stroke-width="0.1">20.0000</text>
<line x1="782" y1="622.5" x2="786" y2="622.5" stroke="#aaa" stroke-width="1"/>
<text x="788.6" y="626.1" font-size="9.6" fill="#4d4d4d" stroke="#4d4d4d" stroke-width="0.1">0.0000</text>
<path d="M777.8,266.2 L784,260 L833,260 L833,272.7 L784,272.7 Z" fill="#253f66"/>
<text x="788.4" y="270" font-size="10.0" font-weight="bold" fill="#fff" stroke="#fff" stroke-width="0.25" textLength="40.4" lengthAdjust="spacingAndGlyphs">1.070900</text>
<rect x="20" y="624.5" width="1" height="1.5" fill="#999"/>
<text x="20.3" y="639" font-size="9.6" fill="#4d4d4d" stroke="#4d4d4d" stroke-width="0.1" text-anchor="middle">24</text>
<rect x="46" y="624.5" width="1" height="1.5" fill="#999"/>
<text x="46.6" y="639" font-size="9.6" fill="#4d4d4d" stroke="#4d4d4d" stroke-width="0.1" text-anchor="middle">27</text>
<rect x="73" y="624.5" width="1" height="1.5" fill="#999"/>
<text x="72.8" y="639" font-size="9.6" fill="#4d4d4d" stroke="#4d4d4d" stroke-width="0.1" text-anchor="middle">Feb</text>
<rect x="99" y="624.5" width="1" height="1.5" fill="#999"/>
<text x="99.1" y="639" font-size="9.6" fill="#4d4d4d" stroke="#4d4d4d" stroke-width="0.1" text-anchor="middle">4</text>
<rect x="125" y="624.5" width="1" height="1.5" fill="#999"/>
<text x="125.4" y="639" font-size="9.6" fill="#4d4d4d" stroke="#4d4d4d" stroke-width="0.1" text-anchor="middle">9</text>
<rect x="151" y="624.5" width="1" height="1.5" fill="#999"/>
<text x="151.6" y="639" font-size="9.6" fill="#4d4d4d" stroke="#4d4d4d" stroke-width="0.1" text-anchor="middle">14</text>
<rect x="178" y="624.5" width="1" height="1.5" fill="#999"/>
<text x="177.9" y="639" font-size="9.6" fill="#4d4d4d" stroke="#4d4d4d" stroke-width="0.1" text-anchor="middle">17</text>
<rect x="204" y="624.5" width="1" height="1.5" fill="#999"/>
<text x="204.2" y="639" font-size="9.6" fill="#4d4d4d" stroke="#4d4d4d" stroke-width="0.1" text-anchor="middle">22</text>
<rect x="248" y="624.5" width="1" height="1.5" fill="#999"/>
<text x="248.0" y="639" font-size="9.6" fill="#4d4d4d" stroke="#4d4d4d" stroke-width="0.1" text-anchor="middle">Mar</text>
<rect x="274" y="624.5" width="1" height="1.5" fill="#999"/>
<text x="274.2" y="639" font-size="9.6" fill="#4d4d4d" stroke="#4d4d4d" stroke-width="0.1" text-anchor="middle">4</text>
<rect x="300" y="624.5" width="1" height="1.5" fill="#999"/>
<text x="300.5" y="639" font-size="9.6" fill="#4d4d4d" stroke="#4d4d4d" stroke-width="0.1" text-anchor="middle">9</text>
<rect x="326" y="624.5" width="1" height="1.5" fill="#999"/>
<text x="326.8" y="639" font-size="9.6" fill="#4d4d4d" stroke="#4d4d4d" stroke-width="0.1" text-anchor="middle">14</text>
<rect x="353" y="624.5" width="1" height="1.5" fill="#999"/>
<text x="353.0" y="639" font-size="9.6" fill="#4d4d4d" stroke="#4d4d4d" stroke-width="0.1" text-anchor="middle">17</text>
<rect x="379" y="624.5" width="1" height="1.5" fill="#999"/>
<text x="379.3" y="639" font-size="9.6" fill="#4d4d4d" stroke="#4d4d4d" stroke-width="0.1" text-anchor="middle">22</text>
<rect x="405" y="624.5" width="1" height="1.5" fill="#999"/>
<text x="405.6" y="639" font-size="9.6" fill="#4d4d4d" stroke="#4d4d4d" stroke-width="0.1" text-anchor="middle">25</text>
<rect x="432" y="624.5" width="1" height="1.5" fill="#999"/>
<text x="431.8" y="639" font-size="9.6" fill="#4d4d4d" stroke="#4d4d4d" stroke-width="0.1" text-anchor="middle">30</text>
<rect x="449" y="624.5" width="1" height="1.5" fill="#999"/>
<text x="449.3" y="639" font-size="9.6" fill="#4d4d4d" stroke="#4d4d4d" stroke-width="0.1" text-anchor="middle">Apr</text>
<rect x="475" y="624.5" width="1" height="1.5" fill="#999"/>
<text x="475.6" y="639" font-size="9.6" fill="#4d4d4d" stroke="#4d4d4d" stroke-width="0.1" text-anchor="middle">6</text>
<rect x="502" y="624.5" width="1" height="1.5" fill="#999"/>
<text x="501.9" y="639" font-size="9.6" fill="#4d4d4d" stroke="#4d4d4d" stroke-width="0.1" text-anchor="middle">11</text>
<rect x="528" y="624.5" width="1" height="1.5" fill="#999"/>
<text x="528.1" y="639" font-size="9.6" fill="#4d4d4d" stroke="#4d4d4d" stroke-width="0.1" text-anchor="middle">14</text>
<rect x="554" y="624.5" width="1" height="1.5" fill="#999"/>
<text x="554.4" y="639" font-size="9.6" fill="#4d4d4d" stroke="#4d4d4d" stroke-width="0.1" text-anchor="middle">19</text>
<rect x="580" y="624.5" width="1" height="1.5" fill="#999"/>
<text x="580.7" y="639" font-size="9.6" fill="#4d4d4d" stroke="#4d4d4d" stroke-width="0.1" text-anchor="middle">22</text>
<rect x="607" y="624.5" width="1" height="1.5" fill="#999"/>
<text x="607.0" y="639" font-size="9.6" fill="#4d4d4d" stroke="#4d4d4d" stroke-width="0.1" text-anchor="middle">27</text>
<rect x="633" y="624.5" width="1" height="1.5" fill="#999"/>
<text x="633.2" y="639" font-size="9.6" fill="#4d4d4d" stroke="#4d4d4d" stroke-width="0.1" text-anchor="middle">May</text>
<rect x="659" y="624.5" width="1" height="1.5" fill="#999"/>
<text x="659.5" y="639" font-size="9.6" fill="#4d4d4d" stroke="#4d4d4d" stroke-width="0.1" text-anchor="middle">5</text>
<rect x="685" y="624.5" width="1" height="1.5" fill="#999"/>
<text x="685.8" y="639" font-size="9.6" fill="#4d4d4d" stroke="#4d4d4d" stroke-width="0.1" text-anchor="middle">10</text>
<rect x="712" y="624.5" width="1" height="1.5" fill="#999"/>
<text x="712.0" y="639" font-size="9.6" fill="#4d4d4d" stroke="#4d4d4d" stroke-width="0.1" text-anchor="middle">13</text>
<rect x="738" y="624.5" width="1" height="1.5" fill="#999"/>
<text x="738.3" y="639" font-size="9.6" fill="#4d4d4d" stroke="#4d4d4d" stroke-width="0.1" text-anchor="middle">18</text>
<rect x="764" y="624.5" width="1" height="1.5" fill="#999"/>
<text x="764.6" y="639" font-size="9.6" fill="#4d4d4d" stroke="#4d4d4d" stroke-width="0.1" text-anchor="middle">23</text>
</svg></body></html>
